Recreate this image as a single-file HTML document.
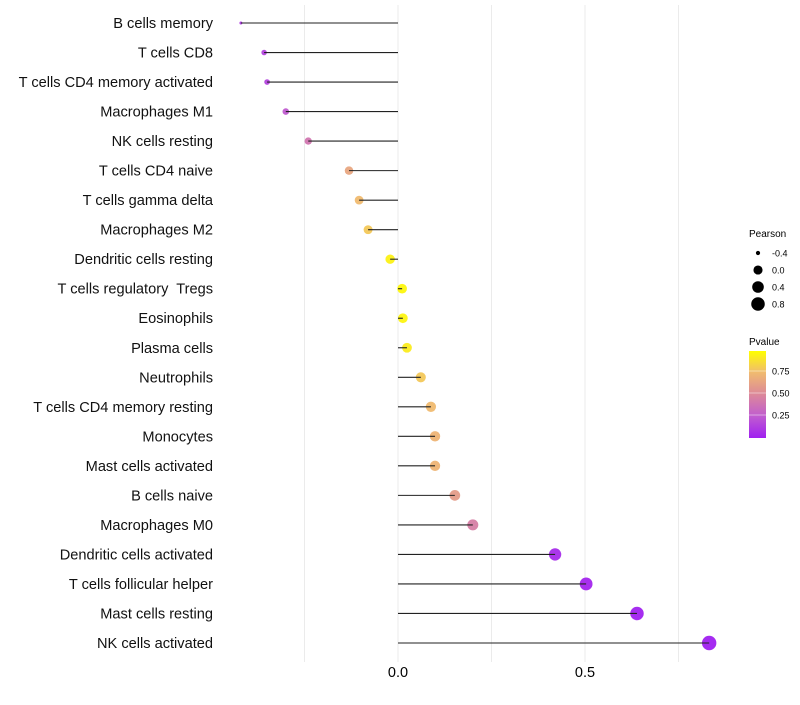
<!DOCTYPE html>
<html><head><meta charset="utf-8"><style>
body{margin:0;background:#fff;width:800px;height:700px;overflow:hidden;font-family:"Liberation Sans",sans-serif}
</style></head><body>
<svg id="chart" width="800" height="700" xmlns="http://www.w3.org/2000/svg" font-family="Liberation Sans, sans-serif"></svg>
<script>
const categories=["B cells memory","T cells CD8","T cells CD4 memory activated","Macrophages M1","NK cells resting","T cells CD4 naive","T cells gamma delta","Macrophages M2","Dendritic cells resting","T cells regulatory  Tregs","Eosinophils","Plasma cells","Neutrophils","T cells CD4 memory resting","Monocytes","Mast cells activated","B cells naive","Macrophages M0","Dendritic cells activated","T cells follicular helper","Mast cells resting","NK cells activated"];
const pearson=[-0.42,-0.358,-0.35,-0.30,-0.24,-0.131,-0.104,-0.08,-0.021,0.011,0.013,0.024,0.061,0.088,0.099,0.099,0.152,0.2,0.42,0.503,0.639,0.832];
const pvalue=[0.1,0.15,0.15,0.25,0.4,0.65,0.75,0.8,0.95,0.97,0.96,0.93,0.8,0.75,0.72,0.72,0.6,0.45,0.05,0.02,0.01,0.001];
const xTicks=[0,0.5];
const xGrid=[-0.25,0,0.25,0.5,0.75];
const sizeLegend=[-0.4,0.0,0.4,0.8];
const colorLegend=[0.25,0.5,0.75];

const svg=document.getElementById('chart');
const NS='http://www.w3.org/2000/svg';
function mk(t,a){const e=document.createElementNS(NS,t);for(const k in a)e.setAttribute(k,a[k]);svg.appendChild(e);return e;}
const xs=v=>398+v*374;
const ys=i=>23+i*(620/21);
const pmin=Math.min(...pearson),pmax=Math.max(...pearson);
const rs=v=>{const t=Math.max(0,Math.min(1,(v-pmin)/(pmax-pmin)));return 1.5+5.7*Math.sqrt(t);};
const stops=[[0,[160,32,240]],[0.25,[192,92,208]],[0.5,[220,136,154]],[0.75,[240,186,112]],[1,[255,255,0]]];
function col(p){for(let i=1;i<stops.length;i++){if(p<=stops[i][0]){const a=stops[i-1],b=stops[i],t=(p-a[0])/(b[0]-a[0]);const c=a[1].map((v,j)=>Math.round(v+(b[1][j]-v)*t));return `rgb(${c})`;}}return 'rgb(255,255,0)';}

xGrid.forEach(g=>{const l=mk('line',{x1:xs(g),x2:xs(g),y1:5,y2:662,stroke:'#ebebeb','stroke-width':1});

});
xTicks.forEach(t=>{const e=mk('text',{x:xs(t),y:677,'font-size':14.5,'text-anchor':'middle',fill:'#000'});e.textContent=t===0?'0.0':String(t);

});

categories.forEach((c,i)=>{
 const y=ys(i);
 const lab=mk('text',{x:213,y:y+5,'font-size':14.6,'text-anchor':'end',fill:'#111','xml:space':'preserve'});lab.textContent=c;
 lab.style.whiteSpace='pre';
 
 
 const dot=mk('circle',{cx:xs(pearson[i]),cy:y,r:rs(pearson[i]),fill:col(pvalue[i]),'fill-opacity':0.95});
 
 
 const seg=mk('line',{x1:xs(0),x2:xs(pearson[i]),y1:y,y2:y,stroke:'#222','stroke-width':1.1});
 
 
});

const st=mk('text',{x:749,y:237,'font-size':10,fill:'#000'});st.textContent='Pearson';


sizeLegend.forEach((v,i)=>{const y=253+i*17;
 const c=mk('circle',{cx:758,cy:y,r:rs(v)*0.95,fill:'#000'});
 
 
 const t=mk('text',{x:772,y:y+3.5,'font-size':9,fill:'#000'});t.textContent=v.toFixed(1);
 
 });

const ct=mk('text',{x:749,y:345,'font-size':10,fill:'#000'});ct.textContent='Pvalue';


const defs=mk('defs',{});
const lg=document.createElementNS(NS,'linearGradient');lg.setAttribute('id','pg');lg.setAttribute('x1',0);lg.setAttribute('y1',1);lg.setAttribute('x2',0);lg.setAttribute('y2',0);
defs.appendChild(lg);
const p0=437,p1=349;
stops.forEach(s=>{const o=document.createElementNS(NS,'stop');o.setAttribute('offset',s[0]);o.setAttribute('stop-color',`rgb(${s[1]})`);lg.appendChild(o);});
const bar=mk('rect',{x:749,y:351,width:17,height:87,fill:'url(#pg)'});


colorLegend.forEach(v=>{const y=p0+(p1-p0)*v;
 const tk=mk('line',{x1:749,x2:766,y1:y,y2:y,stroke:'#fff','stroke-opacity':0.6,'stroke-width':0.8});
 
 
 const t=mk('text',{x:772,y:y+3.5,'font-size':9,fill:'#000'});t.textContent=v.toFixed(2);
 
 });
</script>
</body></html>
